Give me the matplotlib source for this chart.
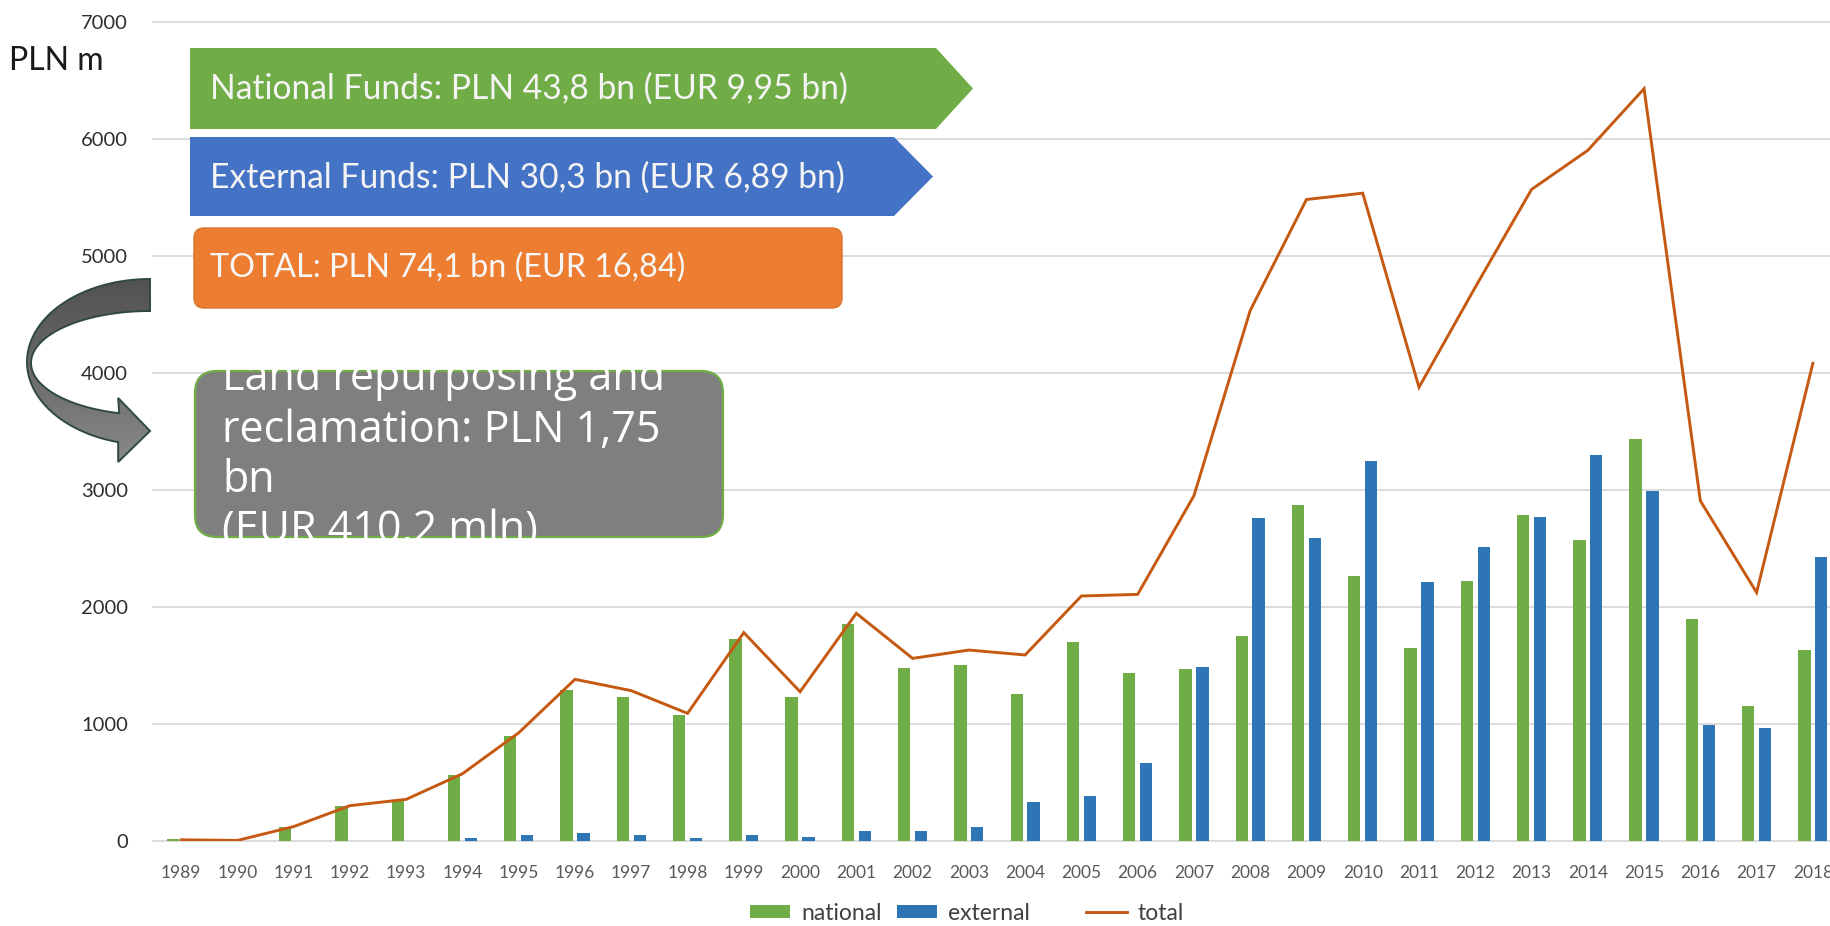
import matplotlib
matplotlib.use('Agg')
import matplotlib.pyplot as plt
import numpy as np
from matplotlib.patches import Polygon, FancyBboxPatch
from matplotlib.colors import LinearSegmentedColormap

# ---------------- data ----------------
years = [str(y) for y in range(1989, 2019)]
national = [18, 0, 123, 302, 345, 564, 900, 1291, 1228, 1077, 1724, 1228, 1855, 1476, 1504,
            1256, 1704, 1439, 1469, 1748, 2871, 2261, 1648, 2224, 2789, 2572, 3433, 1896, 1152, 1631]
external = [0, 0, 0, 0, 0, 28, 51, 71, 51, 23, 51, 37, 85, 85, 123,
            336, 385, 664, 1483, 2757, 2592, 3251, 2210, 2509, 2772, 3299, 2988, 992, 969, 2424]
total = [10, 5, 123, 302, 356, 575, 925, 1382, 1285, 1091, 1781, 1276, 1946, 1561, 1632,
         1590, 2094, 2108, 2951, 4534, 5483, 5537, 3878, 4733, 5569, 5903, 6430, 2908, 2124, 4083]
y_ticks = [0, 1000, 2000, 3000, 4000, 5000, 6000, 7000]
series_labels = ['national', 'external', 'total']
unit_label = 'PLN m'
box_national = 'National Funds: PLN 43,8 bn (EUR 9,95 bn)'
box_external = 'External Funds: PLN 30,3 bn (EUR 6,89 bn)'
box_total = 'TOTAL: PLN 74,1 bn (EUR 16,84)'
box_land = ['Land repurposing and', 'reclamation: PLN 1,75', 'bn', '(EUR 410,2 mln)']

# ---------------- layout ----------------
plt.rcParams['font.family'] = ['Lato', 'DejaVu Sans']
W, H = 1831, 926
fig = plt.figure(figsize=(W / 100, H / 100), dpi=100)
fig.patch.set_facecolor('white')


def fx(px):
    return px / W


def fy(py):
    return 1 - py / H


ax_left, ax_right, ax_top, ax_bot = 153, 1841, 22, 841
ax = fig.add_axes([fx(ax_left), fy(ax_bot), (ax_right - ax_left) / W, (ax_bot - ax_top) / H])

GREEN = '#70ad47'
BLUE_BAR = '#2e75b6'
ORANGE_LINE = '#c65911'

x = np.arange(len(years))
bw, off = 0.22, 0.15
b1 = ax.bar(x - off, national, bw, color=GREEN, zorder=2)
b2 = ax.bar(x + off, external, bw, color=BLUE_BAR, zorder=2)
ln, = ax.plot(x, total, color=ORANGE_LINE, lw=2.1, zorder=3, solid_joinstyle='miter')

ax.set_xlim(-0.5, len(years) - 0.5)
ax.set_ylim(0, 7000)
ax.set_yticks(y_ticks)
ax.set_yticklabels([str(v) for v in y_ticks])
ax.set_xticks(x)
ax.set_xticklabels(years)
ax.grid(axis='y', color='#d9d9d9', lw=1.3, zorder=0)
for gl in ax.get_ygridlines():
    gl.set_clip_on(False)
ax.set_axisbelow(True)
for s in ax.spines.values():
    s.set_visible(False)
ax.tick_params(axis='both', length=0)
ax.tick_params(axis='x', pad=17, labelsize=12.5, labelcolor='#595959')
ax.tick_params(axis='y', pad=18, labelsize=14.5, labelcolor='#2e2e2e')

# legend (two groups, as in the original)
leg_kw = dict(loc='center', frameon=False, fontsize=16.5, handlelength=1.75, handleheight=0.5,
              handletextpad=0.47, columnspacing=0.68, labelcolor='#404040', borderpad=0, borderaxespad=0)
fig.legend(handles=[b1, b2], labels=series_labels[:2], ncol=2,
           bbox_to_anchor=(fx(890), fy(913)), **leg_kw)
fig.legend(handles=[ln], labels=series_labels[2:], ncol=1,
           bbox_to_anchor=(fx(1135), fy(913)), **leg_kw)

# ---------------- overlay with annotations (pixel coords, y down) ----------------
ov = fig.add_axes([0, 0, 1, 1], zorder=10)
ov.set_xlim(0, W)
ov.set_ylim(H, 0)
ov.axis('off')
ov.patch.set_alpha(0)

renderer = fig.canvas.get_renderer()


def fit_text(t, target_w):
    bb = t.get_window_extent(renderer)
    t.set_fontsize(t.get_fontsize() * target_w / bb.width)


ov.text(9, 70, unit_label, fontsize=23, color='#1a1a1a', va='baseline', ha='left')

# green home-plate arrow
ov.add_patch(Polygon([(190, 48), (936, 48), (973, 88.5), (936, 129), (190, 129)],
                     closed=True, facecolor=GREEN, edgecolor='none'))
t = ov.text(210, 99, box_national, fontsize=20, color='#f4f4f4', va='baseline', ha='left')
fit_text(t, 638)

# blue home-plate arrow
ov.add_patch(Polygon([(190, 137), (894, 137), (933, 176.5), (894, 216), (190, 216)],
                     closed=True, facecolor='#4472c4', edgecolor='none'))
t = ov.text(210, 188, box_external, fontsize=20, color='#f4f4f4', va='baseline', ha='left')
fit_text(t, 635)

# orange rounded box
ov.add_patch(FancyBboxPatch((194, 228), 842 - 194, 308 - 228,
                            boxstyle='round,pad=0,rounding_size=10',
                            facecolor='#ed7d31', edgecolor='#d8712c', lw=1))
t = ov.text(210, 277, box_total, fontsize=20, color='#f7f7f7', va='baseline', ha='left')
fit_text(t, 476)

# gray rounded box with clipped text
gbox = FancyBboxPatch((195, 371), 723 - 195, 537 - 371,
                      boxstyle='round,pad=0,rounding_size=22',
                      facecolor='#7f7f7f', edgecolor=GREEN, lw=1.6)
ov.add_patch(gbox)
baselines = [390, 442, 492, 543]
gtexts = []
for s, yb in zip(box_land, baselines):
    tt = ov.text(222, yb, s, fontsize=30, color='white', va='baseline', ha='left',
                 family=['Open Sans', 'DejaVu Sans'])
    gtexts.append(tt)
fit_text(gtexts[1], 438)
for tt in gtexts:
    tt.set_fontsize(gtexts[1].get_fontsize())
    tt.set_clip_path(gbox)
    tt.set_clip_on(True)

# curved gray arrow
cx = 150.0
t_out = np.radians(np.linspace(270, 105, 80))
outer = np.column_stack([cx + 123 * np.cos(t_out), 362 + 83 * np.sin(t_out)])
t_in = np.radians(np.linspace(105, 270, 80))
inner = np.column_stack([cx + 119 * np.cos(t_in), 363 + 52 * np.sin(t_in)])
ox_end = outer[-1]
ix_start = inner[0]
pts = np.vstack([outer,
                 [[ox_end[0], 462], [150, 431], [ox_end[0], 398], [ix_start[0], ix_start[1]]],
                 inner])
arrow = Polygon(pts, closed=True, facecolor='none', edgecolor='#2f4a3c', lw=1.4, zorder=3)
ov.add_patch(arrow)
grad = np.linspace(0, 1, 200).reshape(-1, 1)
cmap = LinearSegmentedColormap.from_list('g', ['#505050', '#6a6a6a', '#8c8c8c'])
im = ov.imshow(grad, cmap=cmap, extent=(20, 160, 470, 272), origin='upper',
               aspect='auto', zorder=2, interpolation='bilinear')
clip_poly = Polygon(pts, closed=True, transform=ov.transData)
im.set_clip_path(clip_poly)
ov.set_xlim(0, W)
ov.set_ylim(H, 0)

fig.savefig('out.png', dpi=100, facecolor='white')
